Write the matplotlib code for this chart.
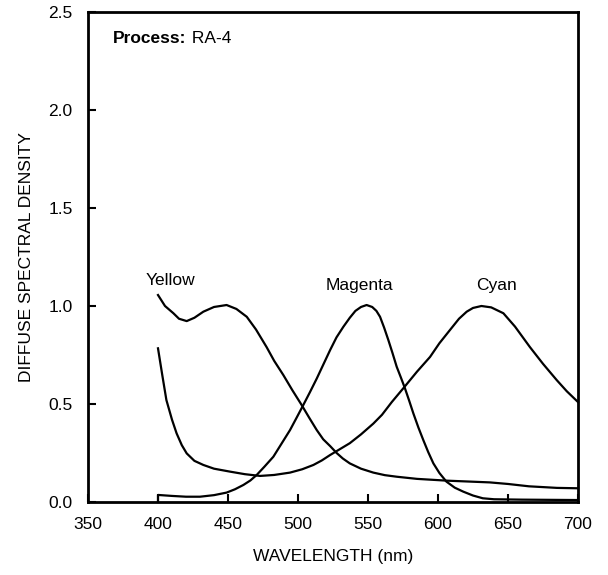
import matplotlib
matplotlib.use("Agg")
import matplotlib.pyplot as plt

plt.rcParams['font.family'] = ['Liberation Sans', 'DejaVu Sans']

# Yellow dye
yellow_nm = [400, 405, 411, 415, 420.5, 426, 432.4, 440, 449, 456, 463.4, 470, 477.6, 483,
             489.5, 496, 502.6, 508, 513.4, 518, 523, 527.6, 532, 537, 545, 553.8, 562,
             570.5, 585, 606, 637, 650, 665, 685, 700]
yellow_d = [1.056, 1.0, 0.963, 0.935, 0.923, 0.94, 0.971, 0.995, 1.005, 0.985, 0.945, 0.88,
            0.79, 0.72, 0.648, 0.57, 0.495, 0.43, 0.367, 0.32, 0.285, 0.25, 0.222, 0.197,
            0.17, 0.15, 0.137, 0.129, 0.118, 0.109, 0.10, 0.092, 0.08, 0.072, 0.07]

# Magenta dye
magenta_nm = [400, 400, 410, 420, 430, 440, 449, 455, 461, 466, 470.5, 476, 482.4, 488,
              494.3, 499, 503.8, 508.5, 513.4, 518, 523, 527.5, 532.4, 537, 541, 545, 549,
              553, 556, 558.6, 561.5, 564.5, 567.5, 570.5, 573.5, 576.4, 579.5, 582.4, 586,
              589.5, 593, 596.7, 601, 606, 612, 618, 625, 632, 640, 660, 700]
magenta_d = [0.0, 0.036, 0.031, 0.027, 0.027, 0.035, 0.048, 0.065, 0.087, 0.11, 0.138,
             0.18, 0.231, 0.295, 0.367, 0.43, 0.495, 0.56, 0.63, 0.70, 0.776, 0.84, 0.894,
             0.94, 0.975, 0.995, 1.005, 0.995, 0.975, 0.945, 0.89, 0.827, 0.76, 0.69,
             0.635, 0.58, 0.515, 0.452, 0.38, 0.316, 0.255, 0.197, 0.148, 0.104, 0.073,
             0.053, 0.033, 0.019, 0.014, 0.012, 0.01]

# Cyan dye
cyan_nm = [400, 403, 406, 410, 413.3, 417, 420.5, 426, 432.4, 440, 451.4, 462, 472.9, 483,
           494.3, 503, 511, 517, 523, 530, 537, 545, 553.8, 560, 567, 575.2, 585, 594.3,
           601, 608.6, 615, 620.5, 625, 631, 638, 646.7, 655, 665.7, 675, 684.8, 692, 700]
cyan_d = [0.784, 0.65, 0.52, 0.42, 0.35, 0.29, 0.248, 0.21, 0.189, 0.17, 0.155, 0.142,
          0.133, 0.138, 0.15, 0.167, 0.189, 0.212, 0.24, 0.27, 0.30, 0.345, 0.40, 0.445,
          0.51, 0.58, 0.665, 0.74, 0.81, 0.878, 0.935, 0.971, 0.99, 1.0, 0.993, 0.963,
          0.895, 0.79, 0.705, 0.622, 0.565, 0.51]

xticks = [350, 400, 450, 500, 550, 600, 650, 700]
yticks = [0.0, 0.5, 1.0, 1.5, 2.0, 2.5]

fig = plt.figure(figsize=(6.08, 5.75), dpi=100)
ax = fig.add_axes([88/608, 73/575, 490/608, 490/575])

for nm, d in [(yellow_nm, yellow_d), (magenta_nm, magenta_d), (cyan_nm, cyan_d)]:
    ax.plot(nm, d, color='black', lw=1.6, clip_on=False, solid_joinstyle='round')

ax.set_xlim(350, 700)
ax.set_ylim(0, 2.5)
ax.set_xticks(xticks)
ax.set_yticks(yticks)
ax.set_yticklabels([f"{v:.1f}" for v in yticks])
ax.tick_params(direction='in', length=6, width=1.5, labelsize=12.5, pad=11)
for s in ax.spines.values():
    s.set_linewidth(2)

ax.set_xlabel("WAVELENGTH (nm)", fontsize=12.5, labelpad=12)
ax.set_ylabel("DIFFUSE SPECTRAL DENSITY", fontsize=12.5, labelpad=10)

ax.text(409, 1.13, "Yellow", ha='center', va='center', fontsize=12.5)
ax.text(544, 1.107, "Magenta", ha='center', va='center', fontsize=12.5)
ax.text(642, 1.107, "Cyan", ha='center', va='center', fontsize=12.5)
t = ax.text(368, 2.367, "Process:", ha='left', va='center', fontsize=12.5, fontweight='bold')
ax.annotate(" RA-4", xy=(1, 0.5), xycoords=t, ha='left', va='center', fontsize=12.5)

fig.savefig("out.png", dpi=100)
